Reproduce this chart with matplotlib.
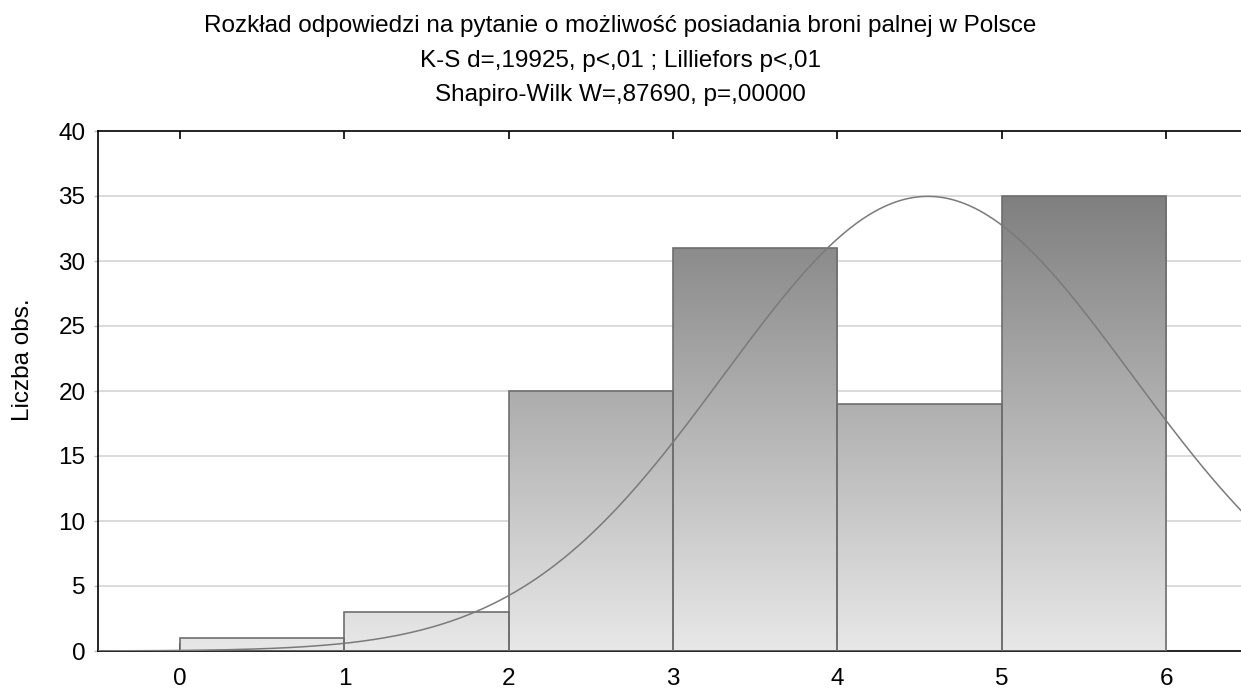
import numpy as np
import matplotlib
matplotlib.use("Agg")
import matplotlib.pyplot as plt

plt.rcParams['font.family'] = ['Liberation Sans', 'DejaVu Sans']

# Data
bin_edges = [0, 1, 2, 3, 4, 5, 6]
counts = [1, 3, 20, 31, 19, 35]
answer_values = [1, 2, 3, 4, 5, 6]   # values counted into each bin (upper edges)
x_ticks = [0, 1, 2, 3, 4, 5, 6]
y_ticks = [0, 5, 10, 15, 20, 25, 30, 35, 40]
title_lines = [
    "Rozkład odpowiedzi na pytanie o możliwość posiadania broni palnej w Polsce",
    "K-S d=,19925, p<,01 ; Lilliefors p<,01",
    "Shapiro-Wilk W=,87690, p=,00000",
]
ylabel = "Liczba obs."

W, H = 1241, 690
fig = plt.figure(figsize=(W / 100, H / 100), dpi=100)
left, right, top, bottom = 98, 1241, 131, 651
ax = fig.add_axes([left / W, 1 - bottom / H, (right - left) / W, (bottom - top) / H])

XMIN, XMAX = -0.5, 6.456
ax.set_xlim(XMIN, XMAX)
ax.set_ylim(0, 40)

# grid
for yv in y_ticks[1:-1]:
    ax.axhline(yv, color='#d4d4d4', lw=1.2, zorder=0)

# gradient bars
grad_top = 35.0
c_bottom = np.array([0.91, 0.91, 0.91])
c_top = np.array([0.50, 0.50, 0.50])
ys = np.linspace(0, 40, 400)
frac = np.clip(ys / grad_top, 0, 1)
cols = c_bottom[None, :] + (c_top - c_bottom)[None, :] * frac[:, None]
img = np.repeat(cols[:, None, :], 2, axis=1)

widths = np.diff(bin_edges)
bars = ax.bar(bin_edges[:-1], counts, width=widths, align='edge',
              facecolor='none', edgecolor='#6e6e6e', linewidth=1.2, zorder=3)
for b in bars:
    im = ax.imshow(img, origin='lower', extent=(XMIN, XMAX, 0, 40),
                   aspect='auto', zorder=2, interpolation='bilinear')
    im.set_clip_path(b)
ax.set_xlim(XMIN, XMAX)
ax.set_ylim(0, 40)

# normal curve fitted from counted values
vals = np.repeat(answer_values, counts)
N = len(vals)
mu = vals.mean()
sd = vals.std(ddof=1)
xs = np.linspace(XMIN, XMAX, 500)
ys_curve = N * 1.0 / (sd * np.sqrt(2 * np.pi)) * np.exp(-0.5 * ((xs - mu) / sd) ** 2)
ax.plot(xs, ys_curve, color='#7a7a7a', lw=1.1, zorder=4)

# spines & ticks
for s in ['left', 'bottom', 'top']:
    ax.spines[s].set_color('black')
    ax.spines[s].set_linewidth(1.2)
ax.spines['right'].set_visible(False)
ax.set_xticks(x_ticks)
ax.set_yticks(y_ticks)
ax.tick_params(axis='x', direction='in', length=6, width=1.2, top=True, labelsize=17.5, pad=12)
ax.tick_params(axis='y', direction='out', length=3, width=1.0, color='#bbbbbb', labelsize=17.5, pad=6)

fig.text(23 / W, 1 - 360 / H, ylabel, rotation=90, ha='center', va='center', fontsize=17.5)

baselines = [32, 67, 101]
for line, yb in zip(title_lines, baselines):
    fig.text(0.5, 1 - yb / H, line, ha='center', va='baseline', fontsize=17.5)

fig.savefig("out.png", dpi=100)
